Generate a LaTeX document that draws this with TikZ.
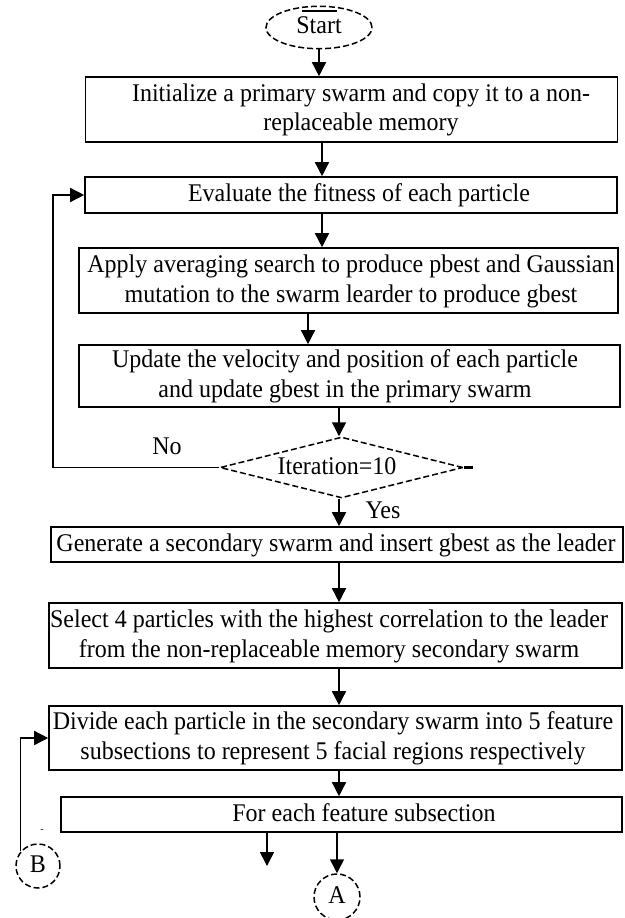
\documentclass[tikz,border=0pt]{standalone}
\usepackage{fontspec}
\usepackage{graphicx}
\setmainfont{Liberation Serif}
\usetikzlibrary{arrows.meta,shapes.geometric}
\newcommand{\mytx}[1]{\scalebox{1}[1.06]{\begin{tabular}{@{}c@{}}#1\end{tabular}}}
\begin{document}
\begin{tikzpicture}[x=1pt,y=-1pt,
  box/.style={draw, line width=1.6pt, inner sep=0pt, rectangle},
  txt/.style={align=center, font=\fontsize{24}{28.3}\selectfont, inner sep=0pt},
  arr/.style={line width=1.5pt, -{Triangle[width=14pt,length=14pt]}},
  conn/.style={line width=1.5pt},
  dsh/.style={draw, line width=1.5pt, dash pattern=on 6pt off 3pt, inner sep=0pt}]
\useasboundingbox (0,0) rectangle (624,918);

% start
\node[dsh, ellipse, minimum width=106pt, minimum height=31pt, font=\fontsize{24}{28.3}\selectfont] (start) at (319,27.5) {\mytx{Start}};
\coordinate (t1) at (302,11);
\coordinate (t2) at (337,11);
\draw[conn] (t1) -- (t2);

% boxes
\node[box, minimum width=532pt, minimum height=65pt] (init) at (351.5,109.5) {};
\node[txt] (initT) at (361,110) {\mytx{Initialize a primary swarm and copy it to a non-\\replaceable memory}};

\node[box, minimum width=532pt, minimum height=36pt] (eval) at (351,195) {};
\node[txt] (evalT) at (359,195.5) {\mytx{Evaluate the fitness of each particle}};

\node[box, minimum width=539pt, minimum height=65pt] (apply) at (348.5,280.5) {};
\node[txt] (applyT) at (351,281) {\mytx{Apply averaging search to produce pbest and Gaussian\\mutation to the swarm learder to produce gbest}};

\node[box, minimum width=541pt, minimum height=62pt] (update) at (349.5,376) {};
\node[txt] (updateT) at (345,376.5) {\mytx{Update the velocity and position of each particle\\and update gbest in the primary swarm}};

\node[dsh, diamond, minimum width=243pt, minimum height=61pt] (dia) at (341.5,467.5) {};
\node[txt] (diaT) at (337,468) {\mytx{Iteration=10}};
\coordinate (stub) at (473,467.5);
\draw[line width=2.4pt] (dia.east) -- (stub);

\node[box, minimum width=572pt, minimum height=35pt] (gen) at (337,544.5) {};
\node[txt] (genT) at (336,545) {\mytx{Generate a secondary swarm and insert gbest as the leader}};

\node[box, minimum width=573pt, minimum height=65pt] (sel) at (335.5,635.5) {};
\node[txt] (selT) at (329,636) {\mytx{Select 4 particles with the highest correlation to the leader\\from the non-replaceable memory secondary swarm}};

\node[box, minimum width=573pt, minimum height=64pt] (div) at (335.5,738) {};
\node[txt] (divT) at (333,738.5) {\mytx{Divide each particle in the secondary swarm into 5 feature\\subsections to represent 5 facial regions respectively}};

\node[box, minimum width=561pt, minimum height=35pt] (for) at (341.5,814.5) {};
\node[txt] (forT) at (364,815) {\mytx{For each feature subsection}};

\node[dsh, circle, minimum size=46pt, font=\fontsize{24}{28.3}\selectfont] (A) at (337,897) {\mytx{A}};
\node[dsh, circle, minimum size=44pt, font=\fontsize{24}{28.3}\selectfont] (B) at (38,866) {\mytx{B}};

% labels
\node[txt] (no) at (167,448) {\mytx{No}};
\node[txt] (yes) at (383,512) {\mytx{Yes}};
\node[font=\fontsize{10}{12}\selectfont, inner sep=0pt] (dash) at (42,831) {-};

% connectors
\coordinate (c1) at (322,0);
\coordinate (c2) at (308,0);
\coordinate (c3) at (339,0);
\coordinate (c4) at (339,0);
\coordinate (c5) at (267,0);
\coordinate (lp) at (53,0);
\coordinate (fend) at (267,866);

\draw[arr] (start.south) -- (start.south |- init.north);
\draw[arr] (c1 |- init.south) -- (c1 |- eval.north);
\draw[arr] (c1 |- eval.south) -- (c1 |- apply.north);
\draw[arr] (c2 |- apply.south) -- (c2 |- update.north);
\draw[arr] (c3 |- update.south) -- (c3 |- dia.north);
\draw[arr] (c3 |- dia.south) -- (c3 |- gen.north);
\draw[arr] (c4 |- gen.south) -- (c4 |- sel.north);
\draw[arr] (c4 |- sel.south) -- (c4 |- div.north);
\draw[arr] (c4 |- div.south) -- (c4 |- for.north);
\draw[arr] (A.north |- for.south) -- (A.north);
\draw[arr] (c5 |- for.south) -- (fend);
\draw[arr] (dia.west) -- (lp |- dia.west) -- (lp |- eval.west) -- (eval.west);
\draw[arr] (B.140) -- (B.140 |- div.west) -- (div.west);
\end{tikzpicture}
\end{document}
